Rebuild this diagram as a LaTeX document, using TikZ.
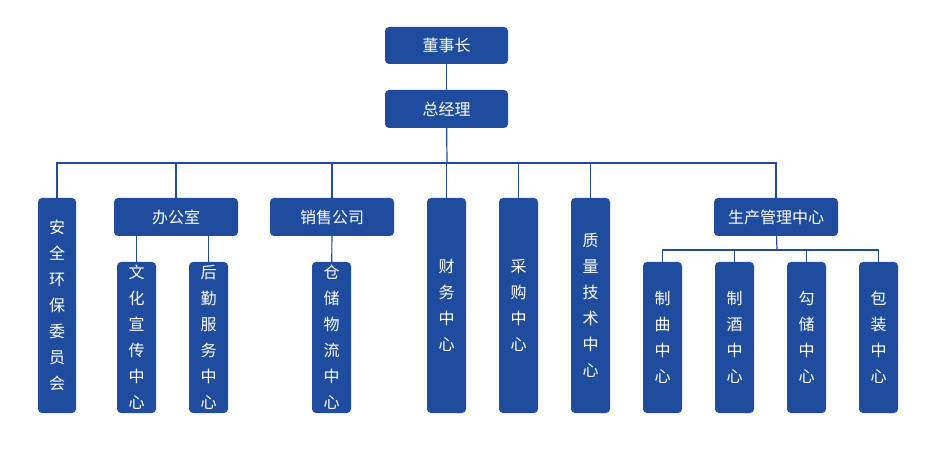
\documentclass[tikz,border=0pt]{standalone}
\usepackage{fontspec}
\setmainfont{Noto Sans CJK SC}
\definecolor{bx}{HTML}{1F4C9E}
\begin{document}
\begin{tikzpicture}[x=1pt,y=-1pt,
  box/.style={fill=bx,rounded corners=4pt,text=white,font=\fontsize{16}{26}\selectfont,align=center,inner sep=0pt},
  ln/.style={draw=bx,line width=1.2pt}]
\useasboundingbox (0,0) rectangle (938,473);
\newcommand\bx[6]{\node[box,minimum width=#3-#2,minimum height=#5-#4] (#1) at ({(#2+#3)/2},{(#4+#5)/2}) {#6};}
\bx{dsz}{385}{508}{27}{64}{董事长}
\bx{zjl}{385}{508}{90}{128}{总经理}
\bx{aq}{38}{76}{198}{413}{安\\全\\环\\保\\委\\员\\会}
\bx{bgs}{114}{238}{198}{236}{办公室}
\bx{wh}{117}{156}{262}{413}{文\\化\\宣\\传\\中\\心}
\bx{hq}{189}{228}{262}{413}{后\\勤\\服\\务\\中\\心}
\bx{xs}{270}{394}{198}{236}{销售公司}
\bx{cc}{312}{351}{262}{413}{仓\\储\\物\\流\\中\\心}
\bx{cw}{427}{466}{198}{413}{财\\务\\中\\心}
\bx{cg}{499}{538}{198}{413}{采\\购\\中\\心}
\bx{zl}{571}{610}{198}{413}{质\\量\\技\\术\\中\\心}
\bx{sc}{714}{838}{198}{236}{生产管理中心}
\bx{zq}{643}{682}{262}{413}{制\\曲\\中\\心}
\bx{zj}{715}{754}{262}{413}{制\\酒\\中\\心}
\bx{gc}{787}{826}{262}{413}{勾\\储\\中\\心}
\bx{bz}{859}{898}{262}{413}{包\\装\\中\\心}
\coordinate (h) at (447,163);
\draw[ln] (dsz) -- (zjl);
\draw[ln] (zjl) -- (h);
\draw[ln] (aq.north) |- (h) -| (sc.north);
\draw[ln] (bgs.north) -- ++(0,-35);
\draw[ln] (xs.north) -- ++(0,-35);
\draw[ln] (cw.north) -- ++(0,-35);
\draw[ln] (cg.north) -- ++(0,-35);
\draw[ln] (zl.north) -- ++(0,-35);
\draw[ln] (wh.north) -- (wh.north |- bgs.south);
\draw[ln] (hq.north) -- (hq.north |- bgs.south);
\draw[ln] (xs) -- (cc);
\coordinate (s) at (777,250);
\draw[ln] (sc) -- (s);
\draw[ln] (zq.north) |- (s) -| (bz.north);
\draw[ln] (zj.north) -- (zj.north |- s);
\draw[ln] (gc.north) -- (gc.north |- s);
\end{tikzpicture}
\end{document}
